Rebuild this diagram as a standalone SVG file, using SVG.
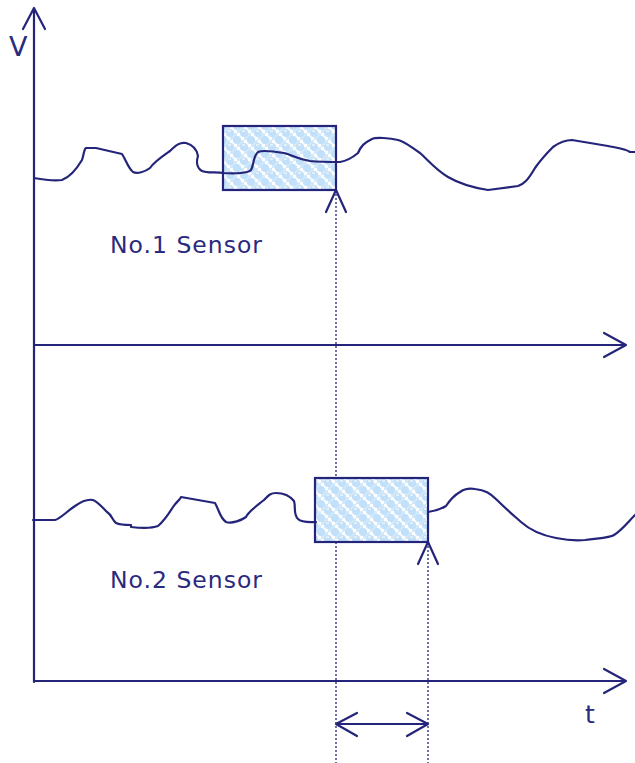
<svg xmlns="http://www.w3.org/2000/svg" width="635" height="763" viewBox="0 0 635 763">
<style>
.ln{fill:none;stroke:#24247a;stroke-width:2.2;stroke-linejoin:round;stroke-linecap:round}
.dot{fill:none;stroke:#24247a;stroke-width:1.3;stroke-dasharray:2 2}
.box{fill:url(#chk);stroke:#24247a;stroke-width:2.2}
.txt{font-family:"DejaVu Sans","Liberation Sans",sans-serif;fill:#2a2a7e}
</style>
<defs>
<pattern id="chk" x="223" y="126" width="14" height="14" patternUnits="userSpaceOnUse">
<rect width="14" height="14" fill="#d2e9fb"/>
<rect x="0" y="7" width="7" height="7" fill="#ffffff"/>
<rect x="7" y="0" width="7" height="7" fill="#ffffff"/>
<circle cx="7" cy="7" r="4" fill="#c2e0f9"/>
<circle cx="0" cy="0" r="4" fill="#c2e0f9"/>
<circle cx="14" cy="0" r="4" fill="#c2e0f9"/>
<circle cx="0" cy="14" r="4" fill="#c2e0f9"/>
<circle cx="14" cy="14" r="4" fill="#c2e0f9"/>
<rect x="5" y="4.5" width="3" height="1" fill="#ffffff"/>
</pattern>
</defs>
<g id="connectors">
<path class="ln" d="M34,682 V8 M23,29 L34,8 L45,29"/>
<path class="ln" d="M34,345 H626 M604,333 L626,345 L604,357"/>
<path class="ln" d="M34,681 H626 M604,669 L626,681 L604,693"/>
<path class="dot" d="M336,190 V763"/>
<path class="dot" d="M428,542 V763"/>
<path class="ln" d="M326,212 L336,190 L346,212"/>
<path class="ln" d="M418,564 L428,542 L438,564"/>
<path class="ln" d="M336,724 H428 M357,713 L336,724 L357,736 M407,713 L428,724 L407,736"/>
</g>
<g id="box1"><rect class="box" x="223" y="126" width="113" height="64"/></g>
<g id="box2"><rect class="box" x="315" y="478" width="113" height="64"/></g>
<g id="wave1">
<path class="ln" d="M34,178 C45,180 55,181 62,180 C70,177 76,170 82,160 C84,154 84,149 86,148 L96,148 L122,154 C126,160 128,168 133,172 C137,174 145,172 150,168 C154,162 160,158 170,151 C176,145 180,142 186,143 C193,145 197,150 198,156 C196,162 197,168 202,171 C206,173 215,172 224,173 C236,174 248,173 251,170 C254,165 253,156 258,152 C262,150 272,151 284,153 C292,155 296,159 310,161 C320,162 330,162 340,162 C346,161 352,158 358,153 C361,146 364,143 372,139 C376,137 390,138 398,140 C406,142 412,148 420,153 C428,160 436,170 448,177 C460,184 475,188 488,190 L518,186 C524,184 528,180 535,168 C542,158 548,152 553,147 C560,142 566,140 572,140 L608,146 C618,148 626,149 630,152 L635,152"/>
</g>
<g id="wave2">
<path class="ln" d="M33,520 L55,520 C60,519 66,512 75,506 C82,501 88,499 93,500 C98,502 103,508 107,512 C112,515 112,520 116,523 C120,525 126,525 131,525 L131,527 C140,528 150,529 158,526 C164,521 168,515 173,507 C177,501 180,500 181,497 L215,503 C219,510 220,518 226,522 C232,524 242,520 246,517 C249,511 254,508 264,500 C268,496 270,493 276,493 C283,493 290,496 294,501 C296,507 293,514 298,519 C302,523 310,522 316,522"/>
<path class="ln" d="M428,512 C436,511 441,509 446,506 C450,500 453,496 460,492 C464,489 468,488 475,489 C485,490 490,493 497,500 C505,508 512,514 521,522 C530,530 540,535 556,538 C566,540 575,541 585,540 C600,538 610,538 614,535 C622,530 628,522 635,515"/>
</g>
<g id="labels">
<text class="txt" x="9" y="56" font-size="27">V</text>
<text class="txt" x="585" y="723" font-size="25">t</text>
<text class="txt" x="110" y="253" font-size="23.5" textLength="152" lengthAdjust="spacing">No.1 Sensor</text>
<text class="txt" x="110" y="588" font-size="23.5" textLength="152" lengthAdjust="spacing">No.2 Sensor</text>
</g>
</svg>
